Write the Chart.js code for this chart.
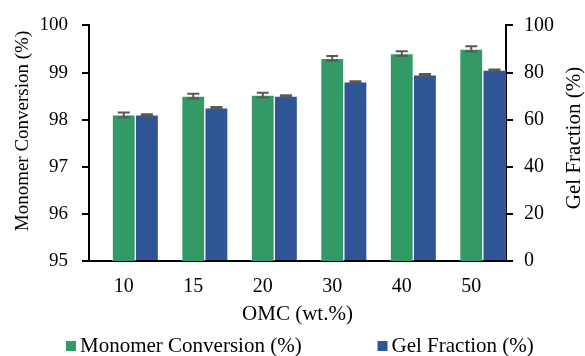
<!DOCTYPE html>
<html>
<head>
<meta charset="utf-8">
<script src="https://cdn.jsdelivr.net/npm/chart.js@4"></script>
<style>
  html, body { margin: 0; padding: 0; background: #fff; }
  #wrap { width: 585px; height: 356px; }
</style>
</head>
<body>
<div id="wrap"><canvas id="c" width="585" height="356"></canvas></div>
<script>
// OMC loading (wt.%)
const categories = ['10', '15', '20', '30', '40', '50'];

// Monomer conversion (%) with standard deviation
const monomerConversion = [98.10, 98.50, 98.52, 99.30, 99.40, 99.50];
const monomerError = [0.05, 0.05, 0.05, 0.05, 0.05, 0.055];

// Gel fraction (%) with standard deviation
const gelFraction = [62, 65, 70, 76, 79, 81];
const gelError = [0.3, 0.4, 0.3, 0.3, 0.4, 0.3];

// Axis tick values
const leftTicks = [95, 96, 97, 98, 99, 100];
const rightTicks = [0, 20, 40, 60, 80, 100];

const GREEN = '#339966';
const BLUE = '#2F5597';
const FONT = 'Liberation Serif, "Times New Roman", serif';

// Vertical error bars with caps, positioned through the chart scales
const errorBars = {
  id: 'errorBars',
  afterDatasetsDraw(chart) {
    const ctx = chart.ctx;
    ctx.save();
    ctx.strokeStyle = '#595959';
    ctx.lineWidth = 2;
    chart.data.datasets.forEach((ds, di) => {
      if (!ds.errors) return;
      const meta = chart.getDatasetMeta(di);
      const yScale = chart.scales[ds.yAxisID];
      meta.data.forEach((bar, i) => {
        const v = ds.data[i], e = ds.errors[i];
        if (v == null) return;
        const x = bar.x;
        const yTop = yScale.getPixelForValue(v + e);
        const yBot = yScale.getPixelForValue(v - e);
        const half = 6;
        ctx.beginPath();
        ctx.moveTo(x, yTop); ctx.lineTo(x, yBot);
        ctx.moveTo(x - half, yTop); ctx.lineTo(x + half, yTop);
        ctx.moveTo(x - half, yBot); ctx.lineTo(x + half, yBot);
        ctx.stroke();
      });
    });
    ctx.restore();
  }
};

// Vertical axis titles (both read bottom to top) and the bottom legend
const decorations = {
  id: 'decorations',
  afterDraw(chart) {
    const ctx = chart.ctx;
    ctx.save();
    ctx.fillStyle = '#000';
    ctx.textAlign = 'center';
    ctx.textBaseline = 'alphabetic';

    ctx.font = '19px ' + FONT;
    ctx.save();
    ctx.translate(27.5, 131);
    ctx.rotate(-Math.PI / 2);
    ctx.fillText('Monomer Conversion (%)', 0, 0);
    ctx.restore();

    ctx.font = '21px ' + FONT;
    ctx.save();
    ctx.translate(580, 138);
    ctx.rotate(-Math.PI / 2);
    ctx.fillText('Gel Fraction (%)', 0, 0);
    ctx.restore();

    // legend
    const items = chart.data.datasets.filter(d => d.label);
    const xs = [66, 377.5];
    ctx.textAlign = 'left';
    ctx.font = '21px ' + FONT;
    items.forEach((ds, i) => {
      ctx.fillStyle = ds.backgroundColor;
      ctx.fillRect(xs[i], 341, 10, 10);
      ctx.fillStyle = '#000';
      ctx.fillText(ds.label, xs[i] + 14, 351.5);
    });
    ctx.restore();
  }
};

new Chart(document.getElementById('c'), {
  type: 'bar',
  data: {
    labels: categories,
    datasets: [
      // empty slot that keeps each pair offset to the right of the category centre
      { label: '', data: categories.map(() => null), yAxisID: 'y', backgroundColor: 'rgba(0,0,0,0)' },
      {
        label: 'Monomer Conversion (%)', data: monomerConversion, errors: monomerError, yAxisID: 'y',
        backgroundColor: GREEN, borderColor: 'rgba(255,255,255,0.35)', borderWidth: 1
      },
      {
        label: 'Gel Fraction (%)', data: gelFraction, errors: gelError, yAxisID: 'y1',
        backgroundColor: BLUE, borderColor: 'rgba(255,255,255,0.35)', borderWidth: 1
      }
    ]
  },
  options: {
    responsive: false,
    animation: false,
    devicePixelRatio: 1,
    layout: { padding: { top: 24, left: 0, right: 0, bottom: 0 } },
    datasets: { bar: { barPercentage: 1, categoryPercentage: 1 } },
    plugins: { legend: { display: false }, tooltip: { enabled: false } },
    scales: {
      x: {
        offset: true,
        grid: { display: false, drawTicks: false },
        border: { display: true, color: '#000', width: 2 },
        ticks: { color: '#000', font: { family: FONT, size: 20 }, padding: 14 },
        title: {
          display: true, text: 'OMC (wt.%)', color: '#000',
          font: { family: FONT, size: 21, lineHeight: 1 }, padding: { top: 0, bottom: 31 }
        },
        afterFit(s) { s.height = 95; }
      },
      y: {
        position: 'left',
        min: 95, max: 100,
        afterBuildTicks(s) { s.ticks = leftTicks.map(v => ({ value: v })); },
        grid: { drawOnChartArea: false, drawTicks: true, tickLength: 7, color: '#000', lineWidth: 2 },
        border: { display: true, color: '#000', width: 2 },
        ticks: { color: '#000', font: { family: FONT, size: 19 }, padding: 14 },
        afterFit(s) { s.width = 89; }
      },
      y1: {
        position: 'right',
        min: 0, max: 100,
        afterBuildTicks(s) { s.ticks = rightTicks.map(v => ({ value: v })); },
        grid: { drawOnChartArea: false, drawTicks: true, tickLength: 7, color: '#000', lineWidth: 2 },
        border: { display: true, color: '#000', width: 2 },
        ticks: { color: '#000', font: { family: FONT, size: 20 }, padding: 11 },
        afterFit(s) { s.width = 79; }
      }
    }
  },
  plugins: [errorBars, decorations]
});
</script>
</body>
</html>
